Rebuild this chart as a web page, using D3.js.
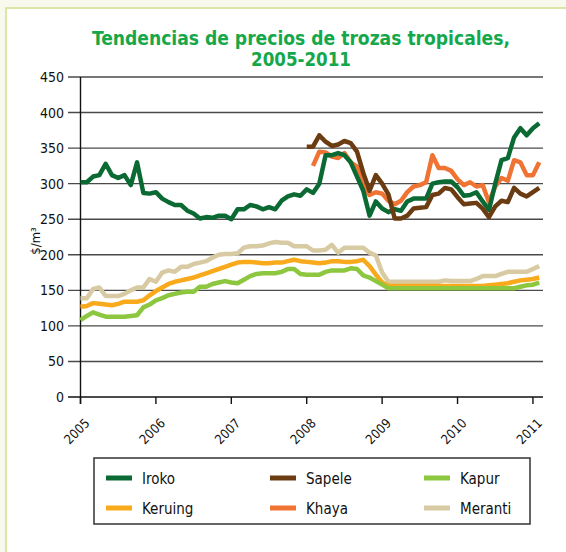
<!DOCTYPE html>
<html>
<head>
<meta charset="utf-8">
<script src="https://cdn.jsdelivr.net/npm/d3@7"></script>
<style>
  html, body { margin: 0; padding: 0; background: #f8f9ec; }
  #chart { width: 566px; height: 552px; }
  text { font-family: "DejaVu Sans Condensed", "Liberation Sans", sans-serif; }
</style>
</head>
<body>
<div id="chart"></div>
<script>
// monthly prices, Jan 2005 .. Feb 2011 ($/m3)
var years = ["2005", "2006", "2007", "2008", "2009", "2010", "2011"];
var yTicks = [0, 50, 100, 150, 200, 250, 300, 350, 400, 450];

var iroko = [302,302,310,312,328,312,308,312,298,330,
             287,286,288,279,274,270,270,262,258,251,
             253,252,255,255,250,264,264,270,268,264,
             267,264,276,282,285,283,292,287,300,340,
             340,343,340,330,310,290,255,275,265,260,
             264,262,275,279,279,279,300,302,303,303,
             295,283,284,288,275,263,300,333,336,365,
             378,368,378,385];
// Sapele and Khaya only reported from 2008
var sapeleStart = 36;
var sapele = [352,352,368,359,353,355,360,357,345,315,
              290,312,300,285,251,251,255,265,266,267,
              284,286,294,292,281,271,272,273,265,253,
              268,276,274,294,286,282,288,294];
var khayaStart = 37;
var khaya = [325,345,344,338,336,343,330,324,296,284,
             288,286,276,271,276,288,296,298,302,340,
             322,322,318,306,298,302,296,298,274,296,
             308,304,333,330,312,312,330];
var meranti = [139,139,152,154,142,142,142,145,150,154,
               154,166,162,175,178,176,183,183,187,189,
               191,196,200,201,201,202,210,212,212,213,
               216,218,217,217,212,212,212,206,206,207,
               214,203,210,210,210,210,203,199,175,162,
               162,162,162,162,162,162,162,162,164,163,
               163,163,163,166,170,170,170,173,176,176,
               176,176,180,184];
var keruing = [127,128,132,131,130,129,131,134,134,134,
               136,143,149,154,159,162,164,166,168,171,
               174,177,180,183,186,189,190,190,189,188,
               188,189,189,191,193,191,190,189,188,189,
               191,191,190,190,191,193,184,172,161,156,
               156,156,156,156,156,156,156,156,156,156,
               156,156,156,156,156,157,158,159,160,162,
               164,165,166,168];
var kapur = [108,114,119,116,113,113,113,113,114,115,
             126,130,136,139,143,145,147,148,148,155,
             155,159,161,163,161,160,165,170,173,174,
             174,174,176,180,180,173,172,172,172,176,
             178,178,178,181,180,171,168,163,158,153,
             153,153,153,153,153,153,153,153,153,153,
             153,153,153,153,153,153,153,153,153,153,
             155,157,158,161];

var series = [
    {name: "Meranti", color: "#d8caa3", start: 0, values: meranti},
    {name: "Keruing", color: "#f8aa1c", start: 0, values: keruing},
    {name: "Kapur", color: "#8dc63f", start: 0, values: kapur},
    {name: "Khaya", color: "#ef7332", start: khayaStart, values: khaya},
    {name: "Iroko", color: "#0b6a33", start: 0, values: iroko},
    {name: "Sapele", color: "#6b3b12", start: sapeleStart, values: sapele}
];
var legendOrder = ["Iroko", "Sapele", "Kapur", "Keruing", "Khaya", "Meranti"];

var W = 566, H = 552;
var svg = d3.select("#chart").append("svg").attr("width", W).attr("height", H);

// panel
svg.append("rect").attr("x", 0).attr("y", 0).attr("width", W).attr("height", H).attr("fill", "#f8f9ec");
svg.append("rect").attr("x", 6).attr("y", 8).attr("width", W + 10).attr("height", H + 10)
    .attr("fill", "#fff").attr("stroke", "#cfdf8f").attr("stroke-width", 1.5);

// title
svg.append("text").attr("text-anchor", "middle").attr("fill", "#14a84a")
    .attr("x", 301).attr("y", 44.5).attr("textLength", 418).attr("lengthAdjust", "spacingAndGlyphs")
    .style("font-weight", "bold").style("font-size", "19px")
    .text("Tendencias de precios de trozas tropicales,");
svg.append("text").attr("text-anchor", "middle").attr("fill", "#14a84a")
    .attr("x", 301).attr("y", 66).attr("textLength", 100).attr("lengthAdjust", "spacingAndGlyphs")
    .style("font-weight", "bold").style("font-size", "19px")
    .text("2005-2011");

var x = d3.scaleLinear().domain([0, 73.6]).range([80.5, 543]);
var y = d3.scaleLinear().domain([0, 450]).range([397, 77]);

// y grid and labels
var gy = svg.append("g");
gy.selectAll(".grid").data(yTicks).enter().append("line")
    .attr("x1", 68).attr("x2", 543)
    .attr("y1", function(d) { return y(d); }).attr("y2", function(d) { return y(d); })
    .attr("stroke", function(d) { return d == 0 ? "#111" : "#4a4a4a"; })
    .attr("stroke-width", 1.4);
gy.selectAll(".lab").data(yTicks).enter().append("text")
    .attr("x", 64).attr("y", function(d) { return y(d) + 5; })
    .attr("text-anchor", "end").style("font-size", "14px").attr("fill", "#111")
    .text(function(d) { return d; });
svg.append("line").attr("x1", 80.5).attr("x2", 80.5).attr("y1", 77).attr("y2", 404)
    .attr("stroke", "#111").attr("stroke-width", 1.4);

// x axis
var gx = svg.append("g");
gx.selectAll(".tick").data(years).enter().append("line")
    .attr("x1", function(d, i) { return x(i * 12); }).attr("x2", function(d, i) { return x(i * 12); })
    .attr("y1", 397).attr("y2", 404).attr("stroke", "#111").attr("stroke-width", 1.4);
gx.selectAll(".lab").data(years).enter().append("text")
    .attr("text-anchor", "end").style("font-size", "13px").attr("fill", "#111")
    .attr("transform", function(d, i) { return "translate(" + (x(i * 12) + 10) + ",424)rotate(-45)"; })
    .text(function(d) { return d; });

// y label
svg.append("text").attr("text-anchor", "middle").style("font-size", "13px").attr("fill", "#111")
    .attr("transform", "translate(40,241)rotate(-90)").text("$/m³");

// lines
var line = d3.line()
    .x(function(d) { return x(d.i); })
    .y(function(d) { return y(d.v); });
series.forEach(function(s) {
    var pts = s.values.map(function(v, k) { return {i: s.start + k, v: v}; });
    svg.append("path").datum(pts).attr("d", line)
        .attr("fill", "none").attr("stroke", s.color).attr("stroke-width", 4.5)
        .attr("stroke-linejoin", "round");
});

// legend
var lg = svg.append("g");
lg.append("rect").attr("x", 94).attr("y", 458).attr("width", 436).attr("height", 66)
    .attr("fill", "#fff").attr("stroke", "#333").attr("stroke-width", 1.5);
var colX = [106, 270, 424];
var rowY = [478, 508];
legendOrder.forEach(function(name, k) {
    var s = series.filter(function(t) { return t.name == name; })[0];
    var cx = colX[k % 3], cy = rowY[Math.floor(k / 3)];
    lg.append("line").attr("x1", cx).attr("x2", cx + 26).attr("y1", cy).attr("y2", cy)
        .attr("stroke", s.color).attr("stroke-width", 5);
    lg.append("text").attr("x", cx + 36).attr("y", cy + 5.5).style("font-size", "15px").attr("fill", "#111")
        .text(name);
});
</script>
</body>
</html>
